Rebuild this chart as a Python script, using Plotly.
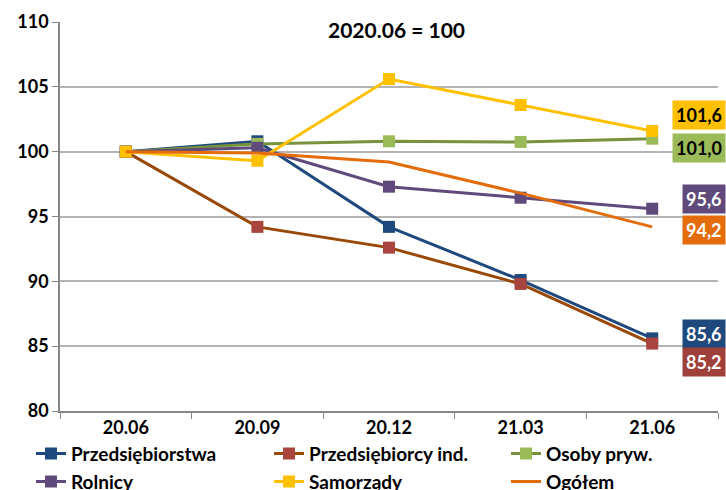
import plotly.graph_objects as go

# Quarter labels on the category axis
periods = ["20.06", "20.09", "20.12", "21.03", "21.06"]

# Index values (2020.06 = 100)
przedsiebiorstwa = [100.0, 100.8, 94.2, 90.1, 85.6]
przedsiebiorcy_ind = [100.0, 94.2, 92.6, 89.8, 85.2]
osoby_pryw = [100.0, 100.6, 100.8, 100.75, 101.0]
rolnicy = [100.0, 100.3, 97.3, 96.45, 95.6]
samorzady = [100.0, 99.3, 105.6, 103.6, 101.6]
ogolem = [100.0, 99.9, 99.2, 96.8, 94.2]

series_names = ["Przedsiębiorstwa", "Przedsiębiorcy ind.", "Osoby pryw.",
                "Rolnicy", "Samorządy", "Ogółem"]
series_values = [przedsiebiorstwa, przedsiebiorcy_ind, osoby_pryw,
                 rolnicy, samorzady, ogolem]

# line colour, marker colour (None = no marker)
styles = [
    ("#1F497D", "#1F497D"),
    ("#984807", "#A9443F"),
    ("#77933C", "#9BBB59"),
    ("#604A7B", "#604A7B"),
    ("#FFC000", "#FFC000"),
    ("#E46C0A", None),
]

# end-of-line value boxes: background, text colour, vertical nudge in px
label_styles = [
    ("#1F497D", "white", 4),
    ("#A0403A", "white", -18),
    ("#9BBB59", "black", -9),
    ("#604A7B", "white", 10),
    ("#FFC000", "black", 16),
    ("#E46C0A", "white", -3),
]

# legend grid: 3 columns x 2 rows, filled row by row (paper coords)
legend_cols = [-0.0441, 0.3177, 0.6778]
legend_rows = [-0.061, -0.133]

FONT = "Lato"

fig = go.Figure()
for i, (name, vals, (lc, mc)) in enumerate(zip(series_names, series_values, styles)):
    lg = "legend" if i == 0 else f"legend{i + 1}"
    kw = dict(x=periods, y=vals, name=name, legend=lg,
              line=dict(color=lc, width=3))
    if mc is None:
        fig.add_trace(go.Scatter(mode="lines", **kw))
    else:
        fig.add_trace(go.Scatter(mode="lines+markers",
                                 marker=dict(symbol="square", size=12, color=mc,
                                             line=dict(width=0)), **kw))

for vals, (bg, fg, dy) in zip(series_values, label_styles):
    v = vals[-1]
    fig.add_annotation(x=1, xref="paper", y=v, yref="y",
                       xanchor="right", yanchor="middle", xshift=8, yshift=dy,
                       text=f"<b>{v:.1f}</b>".replace(".", ","),
                       showarrow=False, bgcolor=bg, borderpad=3,
                       font=dict(family=FONT, size=18, color=fg))

fig.add_annotation(x=0.512, xref="paper", y=1, yref="paper", yanchor="top",
                   yshift=7, text="<b>2020.06 = 100</b>", showarrow=False,
                   font=dict(family=FONT, size=21, color="black"))

legend_layout = {}
for i in range(len(series_names)):
    key = "legend" if i == 0 else f"legend{i + 1}"
    legend_layout[key] = dict(
        x=legend_cols[i % 3], xanchor="left",
        y=legend_rows[i // 3], yanchor="top",
        font=dict(family=FONT, size=19, color="black", weight="bold"),
        itemwidth=30, bgcolor="rgba(0,0,0,0)", borderwidth=0)

fig.update_layout(
    width=726, height=490,
    margin=dict(l=60, r=8, t=22, b=79, autoexpand=False),
    plot_bgcolor="white", paper_bgcolor="white",
    font=dict(family=FONT, color="black"),
    showlegend=True,
    xaxis=dict(type="category", range=[-0.5, 4.5], showgrid=False,
               showline=True, linecolor="#868686", linewidth=1.5,
               ticks="outside", tickson="boundaries", ticklen=6,
               tickcolor="#868686",
               tickfont=dict(family=FONT, size=18, color="black", weight="bold")),
    yaxis=dict(range=[80, 110], dtick=5, tick0=80, showgrid=True,
               gridcolor="#B4B4B4", gridwidth=1.5,
               showline=True, linecolor="#868686", linewidth=1.5,
               ticks="outside", ticklen=6, tickcolor="#868686",
               zeroline=False,
               tickfont=dict(family=FONT, size=18, color="black", weight="bold")),
    **legend_layout,
)

fig.write_html("out.html")
